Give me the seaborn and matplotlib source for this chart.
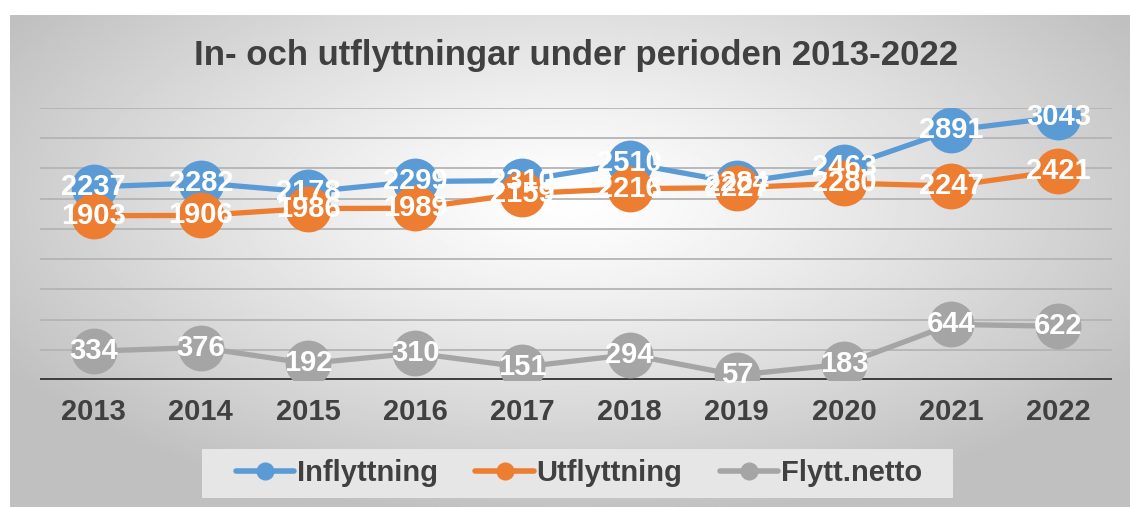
import numpy as np
import pandas as pd
import matplotlib
matplotlib.use("Agg")
import matplotlib.pyplot as plt
from matplotlib.patches import Rectangle
import seaborn as sns

years = ["2013", "2014", "2015", "2016", "2017", "2018", "2019", "2020", "2021", "2022"]
inflyttning = [2237, 2282, 2178, 2299, 2310, 2510, 2284, 2463, 2891, 3043]
utflyttning = [1903, 1906, 1986, 1989, 2159, 2216, 2227, 2280, 2247, 2421]
netto = [334, 376, 192, 310, 151, 294, 57, 183, 644, 622]

series = ["Inflyttning", "Utflyttning", "Flytt.netto"]
colors = ["#5B9BD5", "#ED7D31", "#A5A5A5"]
text_col = "#404040"

df = pd.DataFrame({
    "pos": list(range(len(years))) * 3,
    "value": inflyttning + utflyttning + netto,
    "serie": [s for s in series for _ in years],
})

sns.set_style("white")
plt.rcParams["font.family"] = ["Liberation Sans", "DejaVu Sans"]

fig = plt.figure(figsize=(11.3, 5.07), dpi=100)

# gradient background of chart area
bg = fig.add_axes([10 / 1130, 0, 1 - 10 / 1130, 1 - 15 / 507])
yy, xx = np.mgrid[-1:1:300j, -1:1:600j]
r = np.sqrt((xx / 1.0) ** 2 + ((yy + 0.25) / 1.1) ** 2)
shade = 1 - 0.25 * np.clip(r / 1.2, 0, 1) ** 1.2
bg.imshow(shade, cmap="gray", vmin=0, vmax=1, aspect="auto", extent=[0, 1, 0, 1])
bg.axis("off")

ax = fig.add_axes([40 / 1130, (507 - 380) / 507, (1112 - 40) / 1130, (380 - 108) / 507])
ax.patch.set_alpha(0)
for y in np.arange(350, 3151, 350):
    ax.axhline(y, color="#b4b4b4", lw=1.3, zorder=1)
ax.axhline(0, color=text_col, lw=3.6, zorder=2)

sns.lineplot(data=df, x="pos", y="value", hue="serie", hue_order=series,
             palette=colors, marker="o", markersize=33, markeredgewidth=0,
             linewidth=3.8, legend=False, ax=ax, zorder=3)

for vals in [inflyttning, utflyttning, netto]:
    for i, v in enumerate(vals):
        ax.text(i, v, str(v), ha="center", va="center", color="white",
                fontsize=21, fontweight="bold", zorder=6)

ax.set_xlim(-0.5, len(years) - 0.5)
ax.set_ylim(0, 3150)
ax.set_xticks(range(len(years)))
ax.set_xticklabels(years, fontsize=21, fontweight="bold", color=text_col)
ax.set_yticks([])
ax.tick_params(axis="x", length=0, pad=13)
ax.set_xlabel("")
ax.set_ylabel("")
for s in ax.spines.values():
    s.set_visible(False)

fig.text(576 / 1130, 1 - 55 / 507, "In- och utflyttningar under perioden 2013-2022",
         ha="center", va="center", fontsize=25, fontweight="bold", color=text_col)

# legend box
fig.patches.append(Rectangle((202 / 1130, 1 - 498 / 507), (953 - 202) / 1130, 49 / 507,
                             transform=fig.transFigure, facecolor="#e6e6e6",
                             edgecolor="none", zorder=0))

handles = [plt.Line2D([], [], color=c, lw=4, marker="o", markersize=12,
                      solid_capstyle="round") for c in colors]
leg = fig.legend(handles, series, loc="center", bbox_to_anchor=(579 / 1130, 1 - 473 / 507),
                 ncol=3, frameon=False, handlelength=2.0, handletextpad=0.1,
                 columnspacing=1.27, borderpad=0.4,
                 prop={"size": 21, "weight": "bold"})
for t in leg.get_texts():
    t.set_color(text_col)

fig.savefig("out.png", dpi=100)
